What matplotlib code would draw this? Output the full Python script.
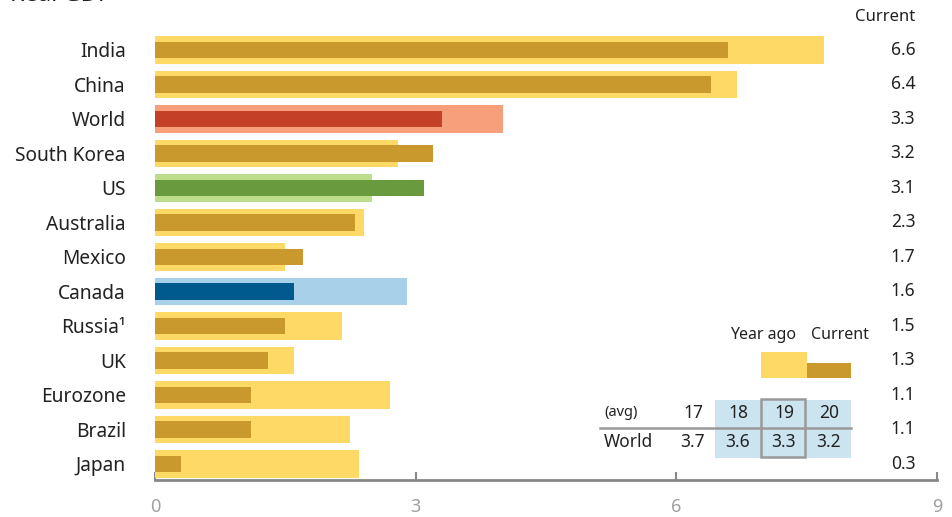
import numpy as np
import matplotlib.pyplot as plt
from matplotlib.patches import Rectangle
from matplotlib.transforms import blended_transform_factory

plt.rcParams['font.family'] = ['Noto Sans', 'DejaVu Sans']

countries = ["India", "China", "World", "South Korea", "US", "Australia", "Mexico",
             "Canada", "Russia\u00b9", "UK", "Eurozone", "Brazil", "Japan"]
current = [6.6, 6.4, 3.3, 3.2, 3.1, 2.3, 1.7, 1.6, 1.5, 1.3, 1.1, 1.1, 0.3]
year_ago = [7.7, 6.7, 4.0, 2.8, 2.5, 2.4, 1.5, 2.9, 2.15, 1.6, 2.7, 2.25, 2.35]

# world forecast table (annual averages)
table_years = ["17", "18", "19", "20"]
table_world = ["3.7", "3.6", "3.3", "3.2"]

YELLOW = "#FFD966"
GOLD = "#C9992E"
highlight = {
    "World": ("#F79F7A", "#C44128"),
    "US": ("#BEDC8C", "#6A9A3E"),
    "Canada": ("#A8D0E8", "#005A8E"),
}

W, H = 953, 517
fig = plt.figure(figsize=(W / 100, H / 100), dpi=100)
ax = fig.add_axes([155 / W, (H - 480) / H, (937 - 155) / W, (480 - 32.75) / H])

y = np.arange(len(countries))
yo_cols = [highlight.get(c, (YELLOW, GOLD))[0] for c in countries]
cur_cols = [highlight.get(c, (YELLOW, GOLD))[1] for c in countries]
ax.barh(y, year_ago, height=0.81, color=yo_cols, zorder=2)
ax.barh(y, current, height=0.49, color=cur_cols, zorder=3)

ax.set_xlim(0, 9)
ax.set_ylim(12.464, -0.5)
ax.set_yticks(y)
ax.set_yticklabels(countries, fontsize=13.8, color="#222222")
ax.tick_params(axis="y", length=0, pad=21)
ax.set_xticks([0, 3, 6, 9])
ax.set_xticklabels(["0", "3", "6", "9"], fontsize=13, color="#A0A0A0",
                   fontweight="light")
ax.tick_params(axis="x", direction="in", length=6, width=1.5, color="#888888", pad=13)
for s in ["top", "right", "left"]:
    ax.spines[s].set_visible(False)
ax.spines["bottom"].set_color("#888888")
ax.spines["bottom"].set_linewidth(2)

# current values down the right margin
tr = blended_transform_factory(fig.transFigure, ax.transData)
for yi, v in zip(y, current):
    ax.text(903 / W, yi, f"{v:.1f}", transform=tr, ha="center", va="center",
            fontsize=12.5, color="#222222")
fig.text(885 / W, (H - 17) / H, "Current", ha="center", va="center",
         fontsize=12, color="#222222")

fig.text(10 / W, (H - 1) / H, "Real GDP", ha="left", va="baseline",
         fontsize=17, color="#222222")

# overlay in pixel units for legend and table
ov = fig.add_axes([0, 0, 1, 1])
ov.set_xlim(0, W)
ov.set_ylim(H, 0)
ov.axis("off")

ov.add_patch(Rectangle((761, 352), 46, 26, color=YELLOW, lw=0))
ov.add_patch(Rectangle((807, 363), 44, 15, color=GOLD, lw=0))
ov.text(763, 335, "Year ago", ha="center", va="center", fontsize=11.5, color="#222222")
ov.text(840, 335, "Current", ha="center", va="center", fontsize=11.5, color="#222222")

ov.add_patch(Rectangle((715, 400), 136, 58, color="#CCE3F0", lw=0))
ov.add_patch(Rectangle((761, 399), 44, 58, fill=False, ec="#999999", lw=1.8))
ov.plot([600, 851], [428, 428], color="#999999", lw=1.8)
col_x = [693, 738, 784, 829]
ov.text(604, 413, "(avg)", ha="left", va="center", fontsize=10.5, color="#222222")
ov.text(604, 442, "World", ha="left", va="center", fontsize=12.5, color="#222222")
for cx, yr, val in zip(col_x, table_years, table_world):
    ov.text(cx, 413, yr, ha="center", va="center", fontsize=12.5, color="#222222")
    ov.text(cx, 442, val, ha="center", va="center", fontsize=12.5, color="#222222")

fig.savefig("out.png", dpi=100)
